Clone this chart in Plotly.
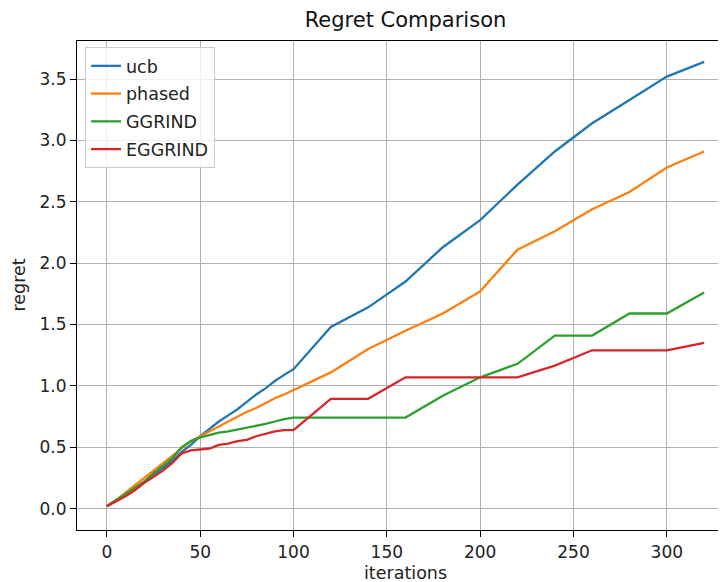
import plotly.graph_objects as go

iterations = [0, 5, 10, 15, 20, 25, 30, 35, 40, 45, 50, 55, 60, 65, 70, 75, 80, 85, 90, 95, 100,
              120, 140, 160, 180, 200, 220, 240, 260, 280, 300, 320]

ucb = [0.02, 0.07, 0.12, 0.17, 0.22, 0.28, 0.33, 0.39, 0.46, 0.52, 0.59, 0.65, 0.71, 0.76, 0.81,
       0.87, 0.93, 0.98, 1.04, 1.09, 1.136,
       1.48, 1.64, 1.85, 2.13, 2.35, 2.64, 2.91, 3.14, 3.33, 3.52, 3.64]
phased = [0.02, 0.07, 0.13, 0.19, 0.25, 0.31, 0.37, 0.43, 0.49, 0.55, 0.59, 0.63, 0.67, 0.71, 0.75,
          0.79, 0.82, 0.86, 0.90, 0.93, 0.967,
          1.11, 1.30, 1.45, 1.59, 1.77, 2.11, 2.26, 2.44, 2.58, 2.78, 2.91]
ggrind = [0.02, 0.07, 0.12, 0.17, 0.22, 0.29, 0.35, 0.41, 0.50, 0.55, 0.58, 0.60, 0.62, 0.63, 0.645,
          0.66, 0.67, 0.69, 0.71, 0.73, 0.742,
          0.742, 0.742, 0.742, 0.92, 1.07, 1.18, 1.41, 1.41, 1.59, 1.59, 1.76]
eggrind = [0.02, 0.06, 0.10, 0.15, 0.21, 0.26, 0.31, 0.37, 0.45, 0.475, 0.48, 0.49, 0.52, 0.53, 0.55,
           0.56, 0.59, 0.61, 0.63, 0.64, 0.64,
           0.895, 0.895, 1.07, 1.07, 1.07, 1.07, 1.165, 1.29, 1.29, 1.29, 1.35]

series_names = ["ucb", "phased", "GGRIND", "EGGRIND"]
series_values = [ucb, phased, ggrind, eggrind]
colors = ["#1f77b4", "#ff7f0e", "#2ca02c", "#d62728"]

x_ticks = [0, 50, 100, 150, 200, 250, 300]
y_ticks = [0.0, 0.5, 1.0, 1.5, 2.0, 2.5, 3.0, 3.5]

fig = go.Figure()
for name, vals, c in zip(series_names, series_values, colors):
    fig.add_trace(go.Scatter(x=iterations, y=vals, mode="lines", name=name,
                             legendgroup=name,
                             line=dict(color=c, width=2.3)))

font_family = "DejaVu Sans"
txt = "#222222"
fig.update_layout(
    width=726, height=582,
    margin=dict(l=69, r=0, t=33, b=60, autoexpand=False),
    paper_bgcolor="white", plot_bgcolor="white",
    font=dict(family=font_family, size=17, color=txt),
    title=dict(text="Regret Comparison", x=0.5, xref="paper", xanchor="center",
               y=1 - 12 / 582, yref="container", yanchor="middle",
               font=dict(size=21, color="#111111")),
    showlegend=True,
    legend=dict(x=0.0122, y=0.9796 + 4 / 489, xanchor="left", yanchor="top",
                bgcolor="rgba(255,255,255,0.8)", bordercolor="#cccccc", borderwidth=1,
                font=dict(size=17.5, color=txt), tracegroupgap=2,
                entrywidth=104, entrywidthmode="pixels"),
    annotations=[
        dict(text="iterations", x=0.5, y=(530 - 573) / 489, xref="paper", yref="paper",
             xanchor="center", yanchor="middle", showarrow=False,
             font=dict(size=17.5, color=txt)),
        dict(text="regret", x=(18 - 77) / 657, y=0.5, xref="paper", yref="paper",
             xanchor="center", yanchor="middle", showarrow=False, textangle=-90,
             font=dict(size=17.5, color=txt)),
    ],
)
fig.update_xaxes(
    range=[-16, 336], tickvals=x_ticks, ticktext=[str(v) for v in x_ticks],
    showgrid=True, gridcolor="#b0b0b0", gridwidth=1.2, zeroline=False,
    showline=True, linecolor="black", linewidth=1.2, mirror=True,
    ticks="outside", ticklen=6, tickwidth=1.2, tickcolor="black",
    automargin=False, tickfont=dict(size=17),
)
fig.update_yaxes(
    range=[-0.174, 3.81], tickvals=y_ticks, ticktext=[f"{v:.1f}" for v in y_ticks],
    showgrid=True, gridcolor="#b0b0b0", gridwidth=1.2, zeroline=False,
    showline=True, linecolor="black", linewidth=1.2, mirror=True,
    ticks="outside", ticklen=6, tickwidth=1.2, tickcolor="black",
    automargin=False, tickfont=dict(size=17),
)

fig.write_html("out.html")
